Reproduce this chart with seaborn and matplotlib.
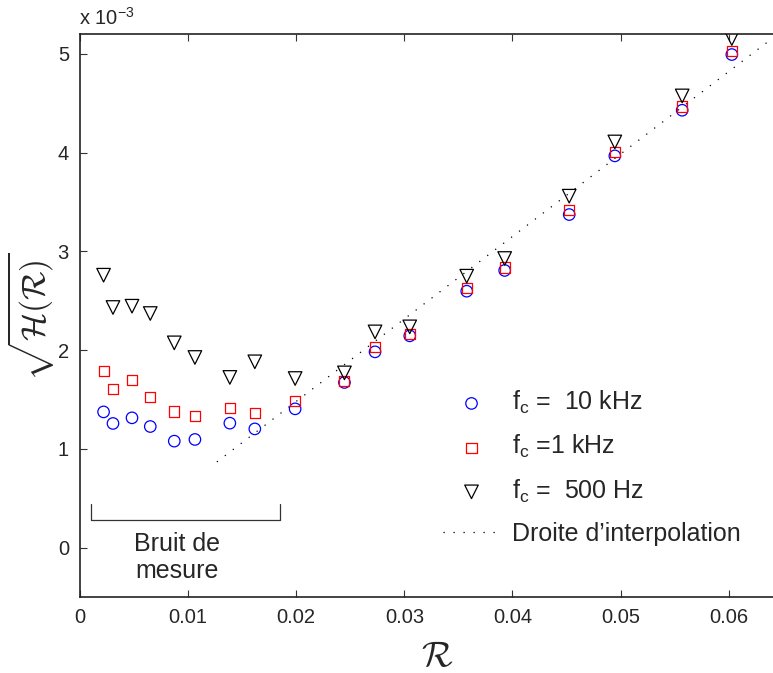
import numpy as np
import pandas as pd
import matplotlib
matplotlib.use("Agg")
import matplotlib.pyplot as plt
import seaborn as sns
from matplotlib.ticker import FuncFormatter

# ---------------- data (y in units of 1e-3) ----------------
R_values = [0.00218, 0.00305, 0.00481, 0.00650, 0.00872, 0.01063, 0.01386, 0.01617,
            0.01990, 0.02446, 0.02729, 0.03050, 0.03577, 0.03928, 0.04525, 0.04947,
            0.05570, 0.06029]
H_10kHz = [1.374, 1.257, 1.314, 1.226, 1.078, 1.095, 1.260, 1.202,
           1.405, 1.672, 1.982, 2.144, 2.596, 2.806, 3.372, 3.966, 4.428, 4.992]
H_1kHz = [1.790, 1.604, 1.695, 1.520, 1.378, 1.331, 1.415, 1.365,
          1.486, 1.688, 2.036, 2.161, 2.633, 2.836, 3.423, 4.003, 4.466, 5.032]
H_500Hz = [2.758, 2.431, 2.444, 2.370, 2.073, 1.925, 1.723, 1.881,
           1.712, 1.769, 2.184, 2.235, 2.748, 2.927, 3.558, 4.107, 4.573, 5.154]
series_labels = [r"f$_\mathrm{c}$ =  10 kHz", r"f$_\mathrm{c}$ =1 kHz", r"f$_\mathrm{c}$ =  500 Hz"]
fit_label = "Droite d\u2019interpolation"
fit_slope = 83.47       # (x 1e-3) per unit R
fit_intercept = -0.189  # x 1e-3
fit_range = [0.01266, 0.0641]
bracket_text = "Bruit de\nmesure"
x_ticks = [0, 0.01, 0.02, 0.03, 0.04, 0.05, 0.06]
y_ticks = [0, 1, 2, 3, 4, 5]

# ---------------- style ----------------
sns.set_theme(style="white")
plt.rcParams["font.family"] = ["Liberation Sans", "DejaVu Sans"]
plt.rcParams["mathtext.fontset"] = "custom"
plt.rcParams["mathtext.rm"] = "Liberation Sans"
plt.rcParams["mathtext.it"] = "Liberation Sans:italic"

fig = plt.figure(figsize=(7.73, 6.73), dpi=100)
ax = fig.add_axes([80 / 773, 76 / 673, 693 / 773, 563 / 673])

frames = []
for lab, vals in zip(series_labels, [H_10kHz, H_1kHz, H_500Hz]):
    frames.append(pd.DataFrame({"R": R_values, "H": vals, "serie": lab}))
df = pd.concat(frames, ignore_index=True)

colors = ["#0000ff", "#ff0000", "#000000"]
markers = ["o", "s", "v"]
sizes = [68, 52, 95]
for lab, c, m, s in zip(series_labels, colors, markers, sizes):
    sns.scatterplot(data=df[df["serie"] == lab], x="R", y="H", ax=ax,
                    marker=m, s=s, color=c, facecolor="none", edgecolor=c,
                    linewidth=0.9, label=lab, zorder=3)

fx = np.array(fit_range)
fit_df = pd.DataFrame({"R": fx, "H": fit_slope * fx + fit_intercept})
sns.lineplot(data=fit_df, x="R", y="H", ax=ax, color="black", linewidth=0.9,
             dashes=False, label=fit_label, zorder=2)
ax.lines[-1].set_dashes((1, 7))

ax.set_xlim(0, 0.0641)
ax.set_ylim(-0.5, 5.2)
ax.set_xticks(x_ticks)
ax.set_yticks(y_ticks)
ax.xaxis.set_major_formatter(FuncFormatter(lambda v, p: f"{v:g}"))
ax.yaxis.set_major_formatter(FuncFormatter(lambda v, p: f"{v:g}"))
ax.tick_params(axis="both", direction="in", length=5, width=0.8, color="#333333",
               labelsize=14.5, top=True, right=False, bottom=True, left=True, pad=8)
for side in ["left", "bottom", "top"]:
    ax.spines[side].set_color("#222222")
    ax.spines[side].set_linewidth(1.2)
ax.spines["right"].set_visible(False)

ax.set_xlabel(r"$\mathcal{R}$", fontsize=26, math_fontfamily="cm")
ax.xaxis.set_label_coords((437 - 80) / 693, -0.075)
ax.set_ylabel(r"$\sqrt{\mathcal{H}(\mathcal{R})}$", fontsize=24, math_fontfamily="cm")
ax.yaxis.set_label_coords(-0.034, (597 - 317) / 563)

fig.text(79 / 773, 1 - 25 / 673, r"x 10$^{-3}$", fontsize=14.5, ha="left", va="baseline")

# bracket for measurement noise
ax.plot([0.00102, 0.00102, 0.01852, 0.01852], [0.441, 0.279, 0.279, 0.441],
        color="#333333", linewidth=0.9)
ax.text(0.00896, -0.1, bracket_text, ha="center", va="center", fontsize=18,
        linespacing=1.12)

leg = ax.legend(loc="upper left", bbox_to_anchor=((433 - 80) / 693, (597 - 379) / 563),
                frameon=False, fontsize=18, handlelength=2.28, handletextpad=0.48,
                labelspacing=0.68, borderaxespad=0)

fig.savefig("out.png", dpi=100)
